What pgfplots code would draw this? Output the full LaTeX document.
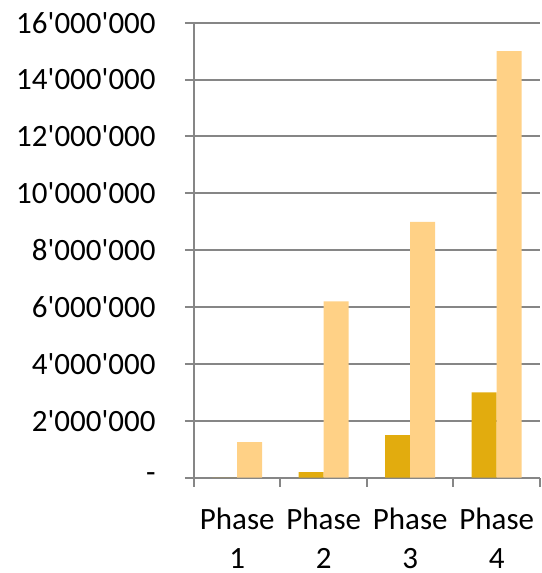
\documentclass[border=0pt]{standalone}
\usepackage{pgfplots}
\pgfplotsset{compat=1.18}
\usepackage{fontspec}
\setmainfont{Carlito}[Ligatures=TeXOff]
\definecolor{darkgold}{HTML}{E2AC0E}
\definecolor{lightgold}{HTML}{FFD186}
\definecolor{axgray}{HTML}{868686}
\begin{document}
\begin{tikzpicture}
\begin{axis}[
  name=ax,
  scale only axis,
  width=173pt, height=227.5pt,
  ymin=0, ymax=16000000,
  xmin=-0.5, xmax=3.5,
  ybar=0pt, bar width=12.5pt,
  axis x line*=bottom, axis y line*=left,
  axis line style={draw=axgray, line width=1pt},
  ytick={0,2000000,4000000,6000000,8000000,10000000,12000000,14000000,16000000},
  yticklabels={-\hspace{10.5pt},2'000'000,4'000'000,6'000'000,8'000'000,10'000'000,12'000'000,14'000'000,16'000'000},
  scaled y ticks=false,
  xtick={-0.5,0.5,1.5,2.5,3.5},
  x tick label as interval,
  xticklabels={Phase\\1,Phase\\2,Phase\\3,Phase\\4},
  tick align=outside,
  major tick length=4.5pt,
  tick style={draw=axgray, line width=1pt},
  ymajorgrids=true,
  major grid style={draw=axgray, line width=1pt},
  every tick label/.append style={font=\fontsize{15.5}{19.5}\selectfont, text=black},
  yticklabel style={inner sep=0pt, xshift=-14.5pt},
  xticklabel style={align=center, inner sep=0pt, yshift=-10.5pt},
]
\addplot[fill=darkgold, draw=none] coordinates {(0,0) (1,200000) (2,1500000) (3,3000000)};
\addplot[fill=lightgold, draw=none] coordinates {(0,1250000) (1,6200000) (2,9000000) (3,15000000)};
\end{axis}
\pgfresetboundingbox
\path (ax.south west) ++(-97pt,-47.65pt) coordinate (bl);
\path (ax.north east) ++(0.5pt,11.35pt) coordinate (tr);
\path[use as bounding box] (bl) rectangle (tr);
\end{tikzpicture}
\end{document}
